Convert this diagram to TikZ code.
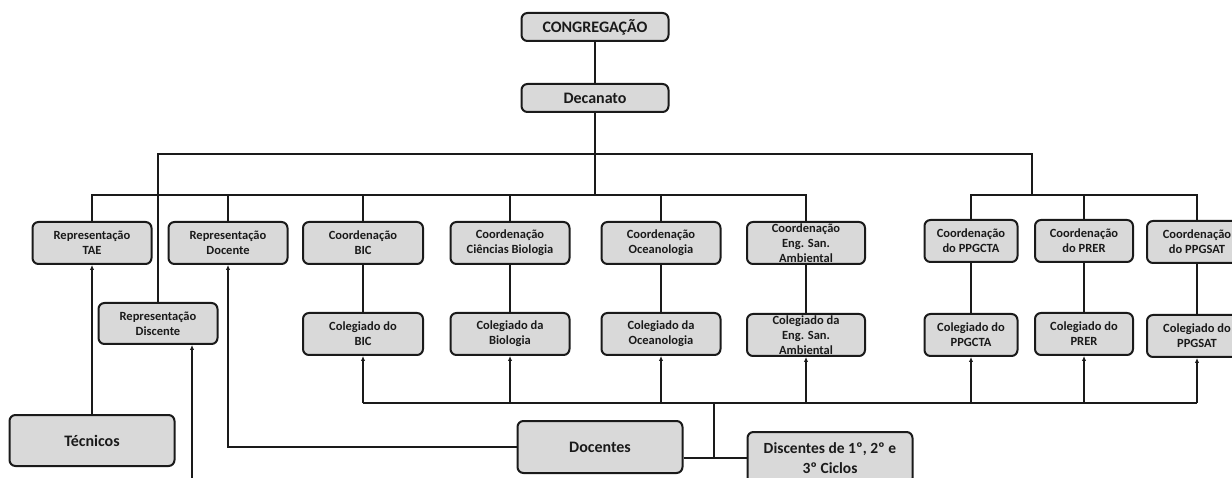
\documentclass[tikz,border=0pt]{standalone}
\usepackage{fontspec}
\setmainfont{Carlito}
\usetikzlibrary{arrows.meta,calc}
\definecolor{boxfill}{HTML}{D9D9D9}
\definecolor{ink}{HTML}{1A1A1A}
\begin{document}
\begin{tikzpicture}[x=1pt,y=-1pt,
  box/.style={draw=ink, line width=2pt, fill=boxfill, rounded corners=6pt, align=center,
    inner sep=0pt, text=ink, font=\bfseries\fontsize{12.5}{15}\selectfont,
    minimum width=119pt, minimum height=42pt},
  bigbox/.style={box, font=\bfseries\fontsize{16}{19}\selectfont},
  conn/.style={draw=ink, line width=2pt},
  arr/.style={conn, -{Latex[length=5pt,width=4.5pt]}}]
\useasboundingbox (0,0) rectangle (1232,478);

% top
\node[bigbox, minimum width=147pt, minimum height=28pt] (cong) at (595,27) {CONGREGAÇÃO};
\node[bigbox, minimum width=147pt, minimum height=28pt] (dec) at (595,98) {Decanato};

% first row
\node[box] (tae) at (92,243) {Representação\\TAE};
\node[box] (doc) at (228,243) {Representação\\Docente};
\node[box, minimum width=120pt] (bic) at (363,243) {Coordenação\\BIC};
\node[box] (cbio) at (510,243) {Coordenação\\Ciências Biologia};
\node[box] (coce) at (661,243) {Coordenação\\Oceanologia};
\node[box, minimum width=118pt] (ceng) at (806,243) {Coordenação\\Eng. San.\\Ambiental};
\node[box, minimum width=93pt] (cppgcta) at (971,241) {Coordenação\\do PPGCTA};
\node[box, minimum width=98pt] (cprer) at (1084,241) {Coordenação\\do PRER};
\node[box, minimum width=100pt] (cppgsat) at (1197,242) {Coordenação\\do PPGSAT};

\node[box, minimum height=41pt] (disc) at (158,323.5) {Representação\\Discente};

% colegiados
\node[box, minimum width=120pt] (gbic) at (363,334) {Colegiado do\\BIC};
\node[box] (gbio) at (510,334) {Colegiado da\\Biologia};
\node[box] (goce) at (661,334) {Colegiado da\\Oceanologia};
\node[box, minimum width=118pt] (geng) at (806,335) {Colegiado da\\Eng. San.\\Ambiental};
\node[box, minimum width=93pt] (gppgcta) at (971,335) {Colegiado do\\PPGCTA};
\node[box, minimum width=98pt] (gprer) at (1084,334) {Colegiado do\\PRER};
\node[box, minimum width=100pt] (gppgsat) at (1197,336) {Colegiado do\\PPGSAT};

% bottom
\node[bigbox, minimum width=165pt, minimum height=51pt] (tec) at (92,440.5) {Técnicos};
\node[bigbox, minimum width=165pt, minimum height=52pt] (docs) at (600,447) {Docentes};
\node[bigbox, minimum width=165pt, minimum height=52pt, font=\bfseries\fontsize{15.5}{20}\selectfont] (discs) at (830,458) {Discentes de 1º, 2º e\\3º Ciclos};

% junction coordinates
\coordinate (busL) at (595,195);
\coordinate (topR) at (1032,154);
\coordinate (busR) at (1032,195);
\coordinate (bb) at (714,403);
\coordinate (dfree) at (192,478);

% tree connectors
\draw[conn] (cong) -- (dec);
\draw[conn] (dec.south) -- (busL);
\draw[conn] (tae.north) |- (ceng.north |- busL) -- (ceng.north);
\foreach \n in {doc,bic,cbio,coce}{\draw[conn] (\n.north) -- (\n.north |- busL);}
\draw[conn] (disc.north) |- (topR) -- (busR);
\draw[conn] (cppgcta.north) |- (cppgsat.north |- busR) -- (cppgsat.north);
\draw[conn] (cprer.north) -- (cprer.north |- busR);

% coordination to colegiado
\draw[conn] (bic) -- (gbic);
\draw[conn] (cbio) -- (gbio);
\draw[conn] (coce) -- (goce);
\draw[conn] (ceng) -- (geng);
\draw[conn] (cppgcta) -- (gppgcta);
\draw[conn] (cprer) -- (gprer);
\draw[conn] (cppgsat) -- (gppgsat);

% bottom bus
\draw[conn] (gbic.south |- bb) -- (gppgsat.south |- bb);
\foreach \n in {gbic,gbio,goce,geng,gppgcta,gprer,gppgsat}{\draw[arr] (\n.south |- bb) -- (\n.south);}
\draw[conn] (bb) -- (bb |- discs.west);
\draw[conn] (docs.east |- discs.west) -- (discs.west);

% representation arrows
\draw[arr] (tec.north) -- (tae.south);
\draw[arr] (docs.west) -| (doc.south);
\draw[arr] (dfree) -- (dfree |- disc.south);
\end{tikzpicture}
\end{document}
